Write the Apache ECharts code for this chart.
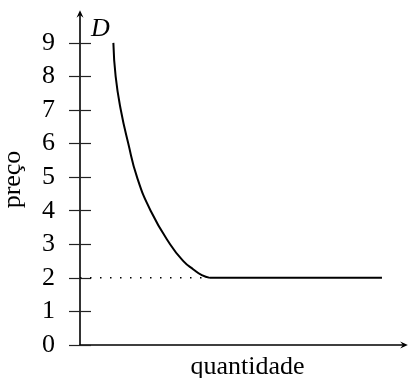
<!DOCTYPE html>
<html>
<head>
    <meta charset="utf-8">
    <title>Demanda</title>
    <script src="https://cdn.jsdelivr.net/npm/echarts@6/dist/echarts.min.js"></script>
</head>
<body style="margin:0">
    <div id="main" style="width:409px;height:378px;"></div>
    <script type="text/javascript">
    // valores
    var quantidade = [1.03, 1.10, 1.26, 1.49, 1.76, 2.18, 2.78, 3.19, 3.50, 3.76, 4.01];
    var preco      = [9,    8,    7,    6,    5,    4,    3,    2.5,  2.25, 2.08, 2];
    var precoTicks = [0, 1, 2, 3, 4, 5, 6, 7, 8, 9];
    var precoMin = 2;       // nível da linha pontilhada / trecho horizontal
    var quantMin = 4.01;    // onde a curva encontra o preço mínimo
    var quantMax = 9.32;    // fim do trecho horizontal

    var fonte = 'Liberation Serif';
    var seta = 'path://M5,0 L10,11 L5,7 L0,11 Z';

    var myChart = echarts.init(document.getElementById('main'));
    myChart.setOption({
        animation: false,
        grid: { left: 80, right: 5, top: 14, bottom: 33, outerBoundsMode: 'none', containLabel: false },
        xAxis: {
            type: 'value', min: 0, max: 10,
            name: 'quantidade', nameLocation: 'middle', nameGap: 9,
            nameTextStyle: { fontFamily: fonte, fontSize: 26, color: '#000', padding: [0, 0, 0, 11] },
            axisLine: { show: true, lineStyle: { color: '#000', width: 1.6 }, symbol: ['none', seta], symbolSize: [7, 9] },
            axisTick: { show: false }, axisLabel: { show: false }, splitLine: { show: false }
        },
        yAxis: [{
            type: 'value', min: 0, max: 9.86,
            name: 'preço', nameLocation: 'middle', nameGap: 54,
            nameTextStyle: { fontFamily: fonte, fontSize: 26, color: '#000' },
            axisLine: { show: true, onZero: false, lineStyle: { color: '#000', width: 1.6 }, symbol: ['none', seta], symbolSize: [7, 9] },
            axisTick: { show: true, customValues: precoTicks, length: 11, lineStyle: { color: '#222', width: 1.2 } },
            axisLabel: { customValues: precoTicks, margin: 25, fontFamily: fonte, fontSize: 26, color: '#000' },
            splitLine: { show: false }
        }, {
            // segunda metade dos traços (para dentro do gráfico)
            type: 'value', min: 0, max: 9.86, position: 'left', offset: 0,
            axisLine: { show: false },
            axisTick: { show: true, customValues: precoTicks, inside: true, length: 11, lineStyle: { color: '#222', width: 1.2 } },
            axisLabel: { show: false }, splitLine: { show: false }
        }],
        series: [{
            type: 'line',
            data: [[0, precoMin], [quantMin, precoMin]],
            symbol: 'none',
            lineStyle: { color: '#000', width: 1.5, type: [1.5, 8.5] },
            z: 1
        }, {
            type: 'line',
            data: [[quantMin, precoMin], [quantMax, precoMin]],
            symbol: 'none',
            lineStyle: { color: '#000', width: 2 },
            z: 2
        }, {
            type: 'line',
            data: quantidade.map(function (q, i) { return [q, preco[i]]; }),
            smooth: 0.5,
            symbol: 'none',
            lineStyle: { color: '#000', width: 2 },
            z: 2
        }, {
            // rótulo "D" junto ao início da curva
            type: 'scatter',
            data: [[quantidade[0], preco[0]]],
            symbolSize: 1,
            itemStyle: { color: '#000', opacity: 0 },
            label: {
                show: true, formatter: 'D', position: 'top', offset: [-13, 5],
                fontFamily: fonte, fontStyle: 'italic', fontSize: 26, color: '#000', opacity: 1
            },
            z: 3
        }]
    });
    </script>
</body>
</html>
